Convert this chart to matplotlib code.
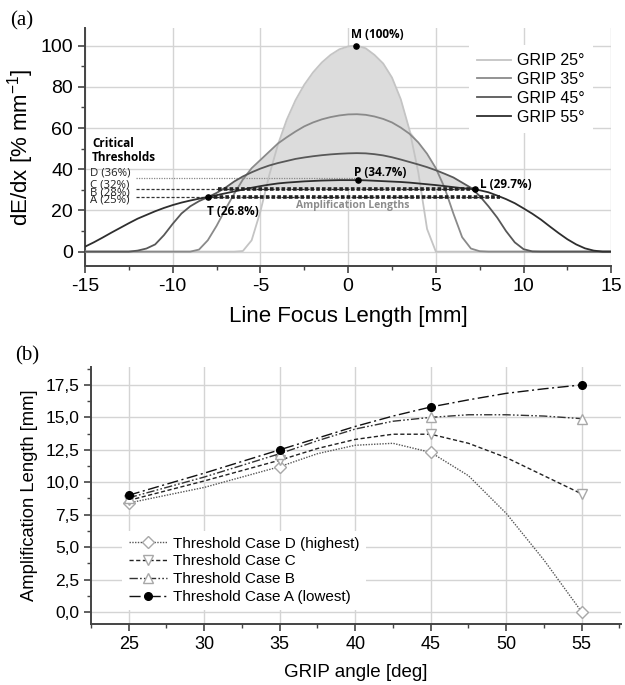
import numpy as np
import matplotlib
matplotlib.use('Agg')
from matplotlib import pyplot as plt
from matplotlib.ticker import MultipleLocator, FixedLocator

plt.rcParams['font.family'] = ['Liberation Sans', 'DejaVu Sans']
plt.rcParams['axes.unicode_minus'] = False

# ---- panel (a) data: dE/dx profiles sampled every 0.5 mm ----
x_mm = np.linspace(-15, 15, 61)
grip25 = [0]*18 + [0.3, 5.5, 19.5, 37, 52, 64, 73.5, 81, 87, 91.8, 95.5, 98.2,
                   99.6, 100, 98.7, 95.5, 91.3, 84.5, 74, 59, 38.5, 11, 0] + [0]*20
grip35 = [0]*13 + [1, 5.5, 12.5, 20.5, 28, 35, 40.5, 44.5, 48.5, 52.5, 55.5, 58.3,
                   60.8, 62.7, 64.2, 65.3, 66.1, 66.6, 66.7, 66.4, 65.6, 64.4, 62.7,
                   60.2, 57.2, 53, 47.5, 40.5, 31, 18.5, 7, 1.5, 0.2] + [0]*15
grip45 = [0]*6 + [0.5, 1.5, 3.5, 8, 13.5, 18.5, 22, 24.5, 26.4, 28.5, 31, 34, 36.5,
                  38.5, 40.3, 41.8, 43, 44, 45, 45.7, 46.3, 46.8, 47.2, 47.5, 47.7,
                  47.8, 47.7, 47.3, 46.7, 45.8, 44.7, 43.5, 42.3, 41, 39.5, 37.8, 36,
                  33.5, 31, 27, 22, 16.5, 10, 4.5, 1.2, 0.1] + [0]*9
grip55 = [2.4, 4.5, 6.8, 9.2, 11.5, 13.8, 16, 17.8, 19.6, 21.2, 22.6, 23.8, 24.8,
          25.7, 26.5, 27.4, 28.3, 29.2, 30.1, 31, 31.8, 32.5, 33.1, 33.5, 33.8, 34.1,
          34.3, 34.5, 34.6, 34.7, 34.7, 34.7, 34.6, 34.4, 34.2, 34, 33.8, 33.5, 33.1,
          32.7, 32.3, 31.8, 31.3, 30.8, 30.4, 29.8, 28.8, 27.2, 25.5, 23.5, 21, 18.4,
          15.5, 12.2, 9, 6, 3.5, 1.6, 0.5, 0, 0]
grip_labels = ['GRIP 25°', 'GRIP 35°', 'GRIP 45°', 'GRIP 55°']
grip_colors = ['#c4c4c4', '#8a8a8a', '#585858', '#2e2e2e']

thr_labels = ['D (36%)', 'C (32%)', 'B (28%)', 'A (25%)']
thr_label_y = [38.0, 32.3, 28.6, 25.0]
thr_line_y = [35.6, 30.3, 26.4]
thr_line_end = [0.57, 7.24, 8.66]
amp_level = [30.3, 26.4]
amp_start = [-7.4, -7.97]
amp_end = [7.24, 8.66]

pt_names = ['M (100%)', 'P (34.7%)', 'L (29.7%)', 'T (26.8%)']
pt_x = [0.44, 0.57, 7.24, -7.97]
pt_y = [100, 34.7, 30.3, 26.4]

# ---- panel (b) data ----
angle_line = [25, 27.5, 30, 32.5, 35, 37.5, 40, 42.5, 45, 47.5, 50, 52.5, 55]
mark_idx = [0, 4, 8, 12]
case_A = [9.0, 9.85, 10.7, 11.6, 12.5, 13.4, 14.3, 15.1, 15.8, 16.35, 16.85, 17.2, 17.5]
case_B = [8.8, 9.6, 10.4, 11.3, 12.2, 13.2, 14.1, 14.7, 15.0, 15.2, 15.2, 15.1, 14.9]
case_C = [8.6, 9.35, 10.1, 10.9, 11.7, 12.6, 13.3, 13.7, 13.7, 13.0, 11.9, 10.5, 9.1]
case_D = [8.4, 9.0, 9.6, 10.4, 11.2, 12.2, 12.85, 13.0, 12.3, 10.5, 7.6, 4.0, 0.0]

fig = plt.figure(figsize=(6.25, 6.85), dpi=100)
ax1 = fig.add_axes([0.136, 0.611, 0.842, 0.348])
ax2 = fig.add_axes([0.1456, 0.0886, 0.848, 0.376])

for ax in (ax1, ax2):
    for s in ['top', 'right']:
        ax.spines[s].set_visible(False)
    for s in ['left', 'bottom']:
        ax.spines[s].set_color('#444444')
        ax.spines[s].set_linewidth(1.4)
    ax.tick_params(which='major', length=5, width=1.2, color='#444444')
    ax.tick_params(which='minor', length=3, width=1.0, color='#444444')
    ax.grid(True, which='major', color='#d4d4d4', lw=1.0)
    ax.set_axisbelow(True)

# ---------------- panel (a) ----------------
curves = [grip25, grip35, grip45, grip55]
env = np.max(np.array(curves), axis=0)
ax1.fill_between(x_mm, amp_level[0], env, where=env >= amp_level[0],
                 interpolate=True, color='#dcdcdc', lw=0, zorder=1)
for yv, lab, c in zip(curves, grip_labels, grip_colors):
    ax1.plot(x_mm, yv, color=c, lw=1.3, label=lab, zorder=3)

# threshold lines
ax1.plot([-12.1, thr_line_end[0]], [thr_line_y[0]]*2, ls=(0, (1, 1)), color='#888888', lw=0.9, zorder=2)
for i in (1, 2):
    ax1.plot([-12.1, thr_line_end[i]], [thr_line_y[i]]*2, ls=(0, (2.5, 1.5)), color='#333333', lw=0.9, zorder=2)
for lv, a, b in zip(amp_level, amp_start, amp_end):
    ax1.plot([a, b], [lv, lv], ls=(0, (1, 0.6)), color='#222222', lw=2.6, zorder=4)

for lab, yy in zip(thr_labels, thr_label_y):
    ax1.text(-14.7, yy, lab, ha='left', va='center', fontsize=8.2,
             family='Open Sans', color='#222222')
ax1.text(-14.6, 49.2, 'Critical\nThresholds', ha='left', va='center', fontsize=8.5,
         family='Open Sans', fontweight='bold', linespacing=1.15)
ax1.text(0.25, 22.2, 'Amplification Lengths', ha='center', va='center', fontsize=7.5,
         family='Open Sans', fontweight='bold', color='#8c8c8c')

ax1.scatter(pt_x, pt_y, s=14, color='black', zorder=6)
ax1.text(pt_x[0] - 0.25, pt_y[0] + 2.0, pt_names[0], ha='left', va='bottom',
         fontsize=8.5, family='Open Sans', fontweight='bold')
ax1.text(pt_x[1] - 0.25, pt_y[1] + 0.6, pt_names[1], ha='left', va='bottom',
         fontsize=8.5, family='Open Sans', fontweight='bold')
ax1.text(pt_x[2] + 0.3, pt_y[2] + 2.4, pt_names[2], ha='left', va='center',
         fontsize=8.5, family='Open Sans', fontweight='bold')
ax1.text(pt_x[3] - 0.05, pt_y[3] - 7.0, pt_names[3], ha='left', va='center',
         fontsize=8.5, family='Open Sans', fontweight='bold')

ax1.set_xlim(-15, 15)
ax1.set_ylim(-7.2, 108.5)
ax1.xaxis.set_major_locator(MultipleLocator(5))
ax1.xaxis.set_minor_locator(MultipleLocator(2.5))
ax1.yaxis.set_major_locator(FixedLocator([0, 20, 40, 60, 80, 100]))
ax1.yaxis.set_minor_locator(FixedLocator([10, 30, 50, 70, 90]))
ax1.tick_params(labelsize=14)
ax1.set_xlabel('Line Focus Length [mm]', fontsize=16, labelpad=8)
ax1.set_ylabel(r'dE/dx [% mm$^{\mathregular{-1}}$]', fontsize=16, labelpad=3)
leg1 = ax1.legend(loc='upper left', bbox_to_anchor=(0.715, 0.962), fontsize=11.5,
                  handlelength=2.1, handletextpad=0.4, labelspacing=0.24,
                  frameon=True, fancybox=False, framealpha=1, borderpad=0.5)
leg1.get_frame().set_edgecolor('none')

# ---------------- panel (b) ----------------
styles = [
    (case_D, 'Threshold Case D (highest)', 'D', (0, (1, 1)), '#555555', 'white', '#a8a8a8', 6.5),
    (case_C, 'Threshold Case C', 'v', (0, (3, 1.8)), '#222222', 'white', '#a8a8a8', 7.5),
    (case_B, 'Threshold Case B', '^', (0, (6, 1.6, 1.2, 1.6, 1.2, 1.6)), '#333333', 'white', '#a8a8a8', 7.5),
    (case_A, 'Threshold Case A (lowest)', 'o', (0, (8, 2.5, 1.5, 2.5)), '#111111', 'black', 'black', 5.5),
]
for yv, lab, mk, ls, lc, fc, ec, ms in styles:
    ax2.plot(angle_line, yv, ls=ls, color=lc, lw=1.0, marker=mk, markevery=mark_idx,
             mfc=fc, mec=ec, ms=ms, mew=1.0, label=lab, zorder=3)

ax2.set_xlim(22.5, 57.6)
ax2.set_ylim(-0.95, 18.9)
ax2.xaxis.set_major_locator(MultipleLocator(5))
ax2.xaxis.set_minor_locator(MultipleLocator(2.5))
y_ticks = [0, 2.5, 5, 7.5, 10, 12.5, 15, 17.5]
ax2.set_yticks(y_ticks)
ax2.set_yticklabels([f'{v:.1f}'.replace('.', ',') for v in y_ticks])
ax2.yaxis.set_minor_locator(MultipleLocator(1.25))
ax2.tick_params(axis='x', labelsize=13)
ax2.tick_params(axis='y', labelsize=12.5)
ax2.set_xlabel('GRIP angle [deg]', fontsize=13.5, labelpad=8)
ax2.set_ylabel('Amplification Length [mm]', fontsize=13.2, labelpad=5)
leg2 = ax2.legend(loc='lower left', bbox_to_anchor=(0.045, 0.025), fontsize=11,
                  handlelength=2.5, handletextpad=0.4, labelspacing=0.25,
                  frameon=True, fancybox=False, framealpha=1, borderpad=0.4)
leg2.get_frame().set_edgecolor('none')

fig.text(0.016, 0.963, '(a)', family='Liberation Serif', fontsize=15)
fig.text(0.024, 0.474, '(b)', family='Liberation Serif', fontsize=15)

fig.savefig('out.png', dpi=100)
